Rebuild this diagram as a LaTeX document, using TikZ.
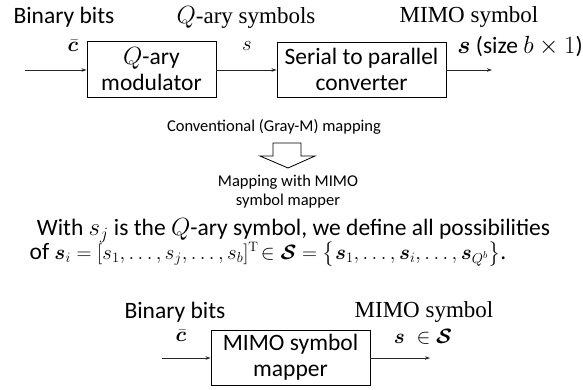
\documentclass[tikz,border=0pt]{standalone}
\usepackage{fontspec}
\usepackage{amsmath}
\usepackage{bm}
\setsansfont{Carlito}
\newfontfamily\labelserif{Liberation Serif}
\usetikzlibrary{arrows.meta}
\begin{document}
\begin{tikzpicture}[x=1pt,y=-1pt,
  lbl/.style={inner sep=0pt,font=\sffamily\fontsize{23.5}{27}\selectfont},
  serlbl/.style={inner sep=0pt,font=\labelserif\fontsize{23}{26}\selectfont},
  mathlbl/.style={inner sep=0pt,font=\fontsize{21}{25}\selectfont},
  small/.style={inner sep=0pt,align=center,font=\sffamily\fontsize{16.5}{19}\selectfont},
  block/.style={draw=black,line width=0.9pt,inner sep=0pt,align=center,
    font=\sffamily\fontsize{23.5}{26}\selectfont},
  flow/.style={draw=black!85,line width=0.9pt,-{Stealth[length=5pt,width=3.5pt]}},
  hollow/.style={draw=black,line width=0.8pt,fill=white,line join=miter}]
\useasboundingbox (0,0) rectangle (583,389);

% upper chain: bits -> Q-ary modulator -> serial/parallel -> MIMO symbol
\node[lbl] (bits1) at (64,17) {Binary bits};
\node[serlbl] (qsym) at (246,17) {$Q$-ary symbols};
\node[serlbl] (mimo1) at (469,17) {MIMO symbol};
\node[mathlbl] (cbar1) at (73,46) {$\bar{\bm{c}}$};
\node[mathlbl] (s1) at (247,46) {$s$};
\node[lbl] (ssize) at (520,46) {$\bm{s}$ (size $b\times 1$)};

\node[block,minimum width=129pt,minimum height=56pt] (mod) at (151.5,69)
  {$Q$-ary\\modulator};
\node[block,minimum width=169pt,minimum height=55pt] (sp) at (361.5,69.5)
  {Serial to parallel\\converter};

\coordinate (in1) at (25,70);
\coordinate (out1) at (492,70);
\draw[flow] (in1) -- (mod.west|-in1);
\draw[flow] (mod.east|-in1) -- (sp.west|-in1);
\draw[flow] (sp.east|-in1) -- (out1);

% transition between the two mappings
\node[small] (conv) at (274,127) {Conventional (Gray-M) mapping};
\draw[hollow] (273,143) -- (301,143) -- (301,156) -- (315,156) -- (288,168)
  -- (260,156) -- (273,156) -- cycle;
\node[small] (newmap) at (288,192) {Mapping with MIMO\\symbol mapper};

% definition of the symbol set
\node[lbl] (def1) at (293.5,231) {With $s_j$ is the $Q$-ary symbol, we define all possibilities};
\node[lbl] (def2) at (268,254)
  {of {\fontsize{19.5}{23}\selectfont$\bm{s}_i = [s_1,\ldots,s_j,\ldots,s_b]^{\mathrm{T}}\!\in\bm{\mathcal{S}}=\bigl\{\bm{s}_1,\ldots,\bm{s}_i,\ldots,\bm{s}_{Q^b}\bigr\}$}.};

% lower chain: bits -> MIMO symbol mapper
\node[lbl] (bits2) at (175,312) {Binary bits};
\node[serlbl] (mimo2) at (424,312) {MIMO symbol};
\node[mathlbl] (cbar2) at (181,336) {$\bar{\bm{c}}$};
\node[mathlbl] (sset) at (423,337) {$\bm{s}\;\in\bm{\mathcal{S}}$};
\node[block,minimum width=159pt,minimum height=55pt] (mapper) at (290.5,357.5)
  {MIMO symbol\\mapper};
\coordinate (in2) at (162,358);
\coordinate (out2) at (430,358);
\draw[flow] (in2) -- (mapper.west|-in2);
\draw[flow] (mapper.east|-in2) -- (out2);
\end{tikzpicture}
\end{document}
